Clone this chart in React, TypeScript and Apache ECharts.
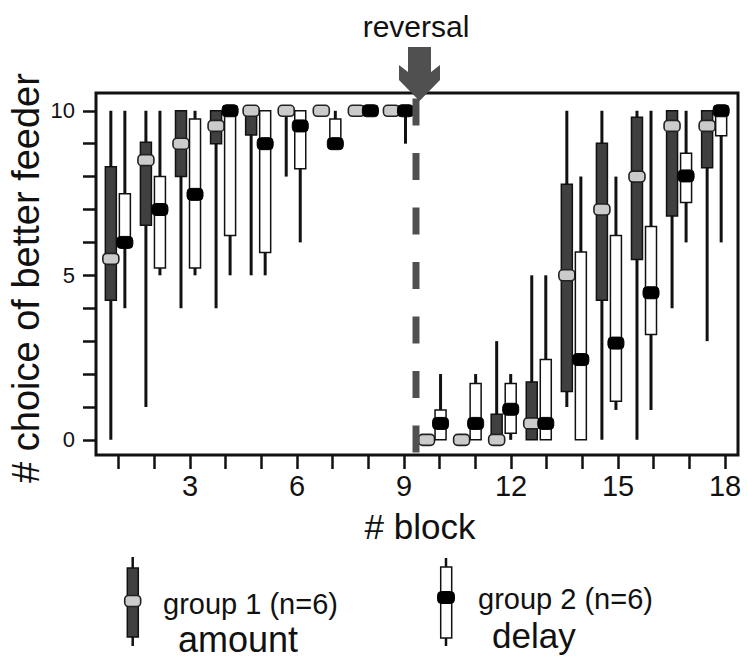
import React, { useEffect, useRef } from "react";
import * as echarts from "echarts";

// ---- data ----
const blocks = [1, 2, 3, 4, 5, 6, 7, 8, 9, 10, 11, 12, 13, 14, 15, 16, 17, 18];

// group 1 (amount): whisker min, q1, median, q3, whisker max
const g1Min = [0, 1, 4, 4, 5, 8, 10, 10, 10, 0, 0, 0, 0, 1, 0, 0, 4, 3];
const g1Q1 = [4.24, 6.52, 8, 9, 9.26, 10, 10, 10, 10, 0, 0, 0, 0, 1.47, 4.24, 5.48, 6.8, 8.27];
const g1Med = [5.5, 8.5, 9, 9.54, 10, 10, 10, 10, 10, 0, 0, 0, 0.5, 5, 7, 8, 9.54, 9.54];
const g1Q3 = [8.3, 9.04, 10, 10, 10, 10, 10, 10, 10, 0, 0, 0.78, 1.76, 7.77, 9.01, 9.8, 10, 10];
const g1Max = [10, 10, 10, 10, 10, 10, 10, 10, 10, 0, 0, 3, 5, 10, 10, 10, 10, 10];

// group 2 (delay)
const g2Min = [4, 5, 5, 5, 5, 6, 9, 10, 9, 0, 0, 0, 0, 0, 0.91, 0.91, 6, 6];
const g2Q1 = [5.85, 5.22, 5.22, 6.21, 5.69, 8.24, 9, 10, 10, 0, 0, 0.2, 0, 0, 1.17, 3.2, 7.21, 9.24];
const g2Med = [6, 7, 7.46, 10, 9, 9.54, 9, 10, 10, 0.5, 0.5, 0.93, 0.5, 2.44, 2.94, 4.47, 8.02, 10];
const g2Q3 = [7.48, 8, 9.75, 10, 10, 10, 9.75, 10, 10, 0.91, 1.71, 1.71, 2.44, 5.71, 6.21, 6.48, 8.71, 10];
const g2Max = [10, 10, 10, 10, 10, 10, 10, 10, 10, 2, 2, 2, 5, 8, 8, 10, 10, 10];

const xTickValues = [1, 2, 3, 4, 5, 6, 7, 8, 9, 10, 11, 12, 13, 14, 15, 16, 17, 18];
const xLabelValues = [3, 6, 9, 12, 15, 18];
const yTickValues = [0, 1, 2, 3, 4, 5, 6, 7, 8, 9, 10];
const yLabelValues = [0, 5, 10];
const reversalBlock = 9.5;

const FONT = "'Liberation Sans', Arial, Helvetica, sans-serif";
const INK = "#111";

function makeRender(offset: number, boxFill: string, markFill: string, markStroke: string, markW: number, markH: number, markLW: number) {
  return (params: any, api: any) => {
    const x = api.value(0) + offset;
    const pMin = api.coord([x, api.value(1)]);
    const pQ1 = api.coord([x, api.value(2)]);
    const pMed = api.coord([x, api.value(3)]);
    const pQ3 = api.coord([x, api.value(4)]);
    const pMax = api.coord([x, api.value(5)]);
    const cx = pMed[0];
    const children: any[] = [];
    if (Math.abs(pMin[1] - pMax[1]) > 0.5) {
      children.push({ type: "line", shape: { x1: cx, y1: pMax[1], x2: cx, y2: pMin[1] }, style: { stroke: INK, lineWidth: 3 } });
    }
    const bh = pQ1[1] - pQ3[1];
    if (bh > 0.5) {
      children.push({ type: "rect", shape: { x: cx - 5.5, y: pQ3[1], width: 11, height: bh }, style: { fill: boxFill, stroke: INK, lineWidth: 1.5 } });
    }
    children.push({
      type: "rect",
      shape: { x: cx - markW / 2, y: pMed[1] - markH / 2, width: markW, height: markH, r: 4 },
      style: { fill: markFill, stroke: markStroke, lineWidth: markLW },
    });
    return { type: "group", children };
  };
}

export default function App() {
  const ref = useRef<HTMLDivElement>(null);
  useEffect(() => {
    if (!ref.current) return;
    const chart = echarts.init(ref.current, undefined, { renderer: "svg" });
    const d1 = blocks.map((b, i) => [b, g1Min[i], g1Q1[i], g1Med[i], g1Q3[i], g1Max[i]]);
    const d2 = blocks.map((b, i) => [b, g2Min[i], g2Q1[i], g2Med[i], g2Q3[i], g2Max[i]]);
    const yMin = -0.46;
    const yMax = 10.54;
    const option: any = {
      animation: false,
      grid: { left: 96, top: 93, width: 642, height: 362, show: true, borderColor: INK, borderWidth: 3, backgroundColor: "transparent" },
      xAxis: [
        {
          type: "value",
          min: 0.3636,
          max: 18.364,
          axisLine: { show: false, onZero: false },
          splitLine: { show: false },
          axisTick: { show: true, customValues: xTickValues, length: 14, lineStyle: { color: INK, width: 2.5 } },
          axisLabel: { customValues: xLabelValues, fontSize: 29, color: INK, fontFamily: FONT, margin: 16 },
        },
        { type: "value", min: 0.377, max: 18.68, show: false, axisLine: { onZero: false } },
      ],
      yAxis: [
        {
          type: "value",
          min: yMin,
          max: yMax,
          axisLine: { show: false, onZero: false },
          splitLine: { show: false },
          axisTick: { show: true, customValues: yTickValues, length: 13, lineStyle: { color: INK, width: 2.5 } },
          axisLabel: { customValues: yLabelValues, fontSize: 22, color: INK, fontFamily: FONT, margin: 21 },
        },
      ],
      series: [
        {
          type: "custom",
          name: "group 1 (n=6) amount",
          xAxisIndex: 1,
          renderItem: makeRender(-0.2, "#404040", "#cbcbcb", "#222", 16, 11, 1.6),
          encode: { x: 0, y: [1, 2, 3, 4, 5] },
          data: d1,
          z: 2,
        },
        {
          type: "custom",
          name: "group 2 (n=6) delay",
          xAxisIndex: 1,
          renderItem: makeRender(0.2, "#ffffff", "#000000", "#000000", 16, 12, 1),
          encode: { x: 0, y: [1, 2, 3, 4, 5] },
          data: d2,
          z: 3,
        },
        {
          type: "line",
          xAxisIndex: 1,
          data: [[reversalBlock, yMin], [reversalBlock, yMax]],
          symbol: "none",
          silent: true,
          lineStyle: { color: "#505050", width: 7, type: [27, 27.5], dashOffset: 51.5, cap: "butt" },
          z: 5,
        },
      ],
      graphic: [
        {
          type: "polygon",
          z: 100,
          shape: { points: [[408, 47], [431, 47], [431, 72], [440, 65], [440, 80], [419.5, 101], [399, 80], [399, 65], [408, 72]] },
          style: { fill: "#505050" },
        },
        { type: "text", x: 416, y: 26, style: { text: "reversal", font: `30px ${FONT}`, fill: INK, textAlign: "center", textVerticalAlign: "middle" } },
        { type: "text", x: 420, y: 526, style: { text: "# block", font: `35px ${FONT}`, fill: INK, textAlign: "center", textVerticalAlign: "middle" } },
        {
          type: "text",
          x: 26,
          y: 278,
          rotation: Math.PI / 2,
          style: { text: "# choice of better feeder", font: `38px ${FONT}`, fill: INK, textAlign: "center", textVerticalAlign: "middle" },
        },
        // legend group 1
        { type: "line", shape: { x1: 132.7, y1: 557, x2: 132.7, y2: 646 }, style: { stroke: INK, lineWidth: 2.5 } },
        { type: "rect", shape: { x: 127.3, y: 568, width: 11, height: 69 }, style: { fill: "#404040", stroke: INK, lineWidth: 1.5 } },
        { type: "rect", shape: { x: 124.7, y: 595.5, width: 16, height: 11, r: 4 }, style: { fill: "#cbcbcb", stroke: "#222", lineWidth: 1.6 } },
        { type: "text", x: 163, y: 604, style: { text: "group 1 (n=6)", font: `29px ${FONT}`, fill: INK, textAlign: "left", textVerticalAlign: "middle" } },
        { type: "text", x: 178, y: 639, style: { text: "amount", font: `36px ${FONT}`, fill: INK, textAlign: "left", textVerticalAlign: "middle" } },
        // legend group 2
        { type: "line", shape: { x1: 446, y1: 558, x2: 446, y2: 646 }, style: { stroke: INK, lineWidth: 2.5 } },
        { type: "rect", shape: { x: 440.7, y: 567, width: 11, height: 71 }, style: { fill: "#ffffff", stroke: INK, lineWidth: 1.5 } },
        { type: "rect", shape: { x: 437.5, y: 591.5, width: 17, height: 12, r: 4 }, style: { fill: "#000000", stroke: "#000", lineWidth: 1 } },
        { type: "text", x: 478, y: 599, style: { text: "group 2 (n=6)", font: `29px ${FONT}`, fill: INK, textAlign: "left", textVerticalAlign: "middle" } },
        { type: "text", x: 492, y: 635, style: { text: "delay", font: `35px ${FONT}`, fill: INK, textAlign: "left", textVerticalAlign: "middle" } },
      ],
    };
    chart.setOption(option);
    return () => chart.dispose();
  }, []);
  return <div ref={ref} style={{ position: "fixed", left: 0, top: 0, width: 747, height: 659, background: "#fff" }} />;
}
